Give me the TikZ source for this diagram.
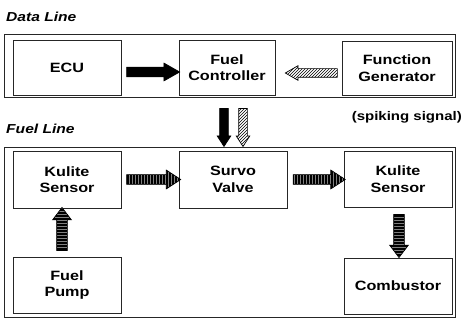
\documentclass[tikz,border=0pt]{standalone}
\usepackage{fontspec}
\setmainfont{Liberation Sans}[FakeStretch=1.2]
\usetikzlibrary{shapes.arrows,patterns,calc}
\begin{document}
\begin{tikzpicture}[x=1pt,y=-1pt,
  txt/.style={font=\fontsize{13.5}{16.5}\selectfont\bfseries, align=center},
  blk/.style={draw=black!85, line width=0.7pt, inner sep=0pt, txt},
  frame/.style={draw=black!85, line width=0.8pt},
  sarr/.style={single arrow, inner sep=0pt, outer sep=0pt, line width=0.7pt, draw=black},
  solidarr/.style={sarr, fill=black},
  hatcharr/.style={sarr, fill=white, pattern=north east lines, pattern color=black},
  fuelh/.style={sarr, preaction={fill=black}, pattern=vertical lines, pattern color=black!50},
  fuelv/.style={sarr, preaction={fill=black}, pattern=horizontal lines, pattern color=black!50}
]
\useasboundingbox (0,0) rectangle (464,320);

% section labels
\node[anchor=west, inner sep=0pt, font=\fontsize{13}{15}\selectfont\bfseries\itshape] (dl) at (6,16.5) {Data Line};
\node[anchor=west, inner sep=0pt, font=\fontsize{13}{15}\selectfont\bfseries\itshape] (fl) at (6,129) {Fuel Line};
\node[anchor=east, inner sep=0pt, font=\fontsize{12.5}{15}\selectfont\bfseries] (sp) at (462,117) {(spiking signal)};

% outer frames
\node[frame, minimum width=451pt, minimum height=63pt, inner sep=0pt] (dataframe) at (229.5,65.5) {};
\node[frame, minimum width=451pt, minimum height=170pt, inner sep=0pt] (fuelframe) at (229.5,232) {};

% data line blocks
\node[blk, minimum width=108pt, minimum height=55pt] (ecu) at (67,67.5) {ECU};
\node[blk, minimum width=96pt, minimum height=55pt] (fc) at (227,67.5) {Fuel\\Controller};
\node[blk, minimum width=110pt, minimum height=54pt] (fg) at (397,68) {Function\\Generator};

% fuel line blocks
\node[blk, minimum width=108pt, minimum height=57pt] (ks1) at (67,179.5) {Kulite\\Sensor};
\node[blk, minimum width=108pt, minimum height=57pt] (sv) at (233,179.5) {Survo\\Valve};
\node[blk, minimum width=108pt, minimum height=56pt] (ks2) at (398,179) {Kulite\\Sensor};
\node[blk, minimum width=108pt, minimum height=56pt] (fp) at (67,285) {Fuel\\Pump};
\node[blk, minimum width=108pt, minimum height=56pt] (cb) at (398,286) {Combustor};

% helper x positions
\coordinate (xa) at (224,0);
\coordinate (xb) at (243,0);
\coordinate (xc) at (62,0);
\coordinate (xd) at (399,0);

% data line arrows
\path ($(ecu.east)+(0,4.5)$) -- node[pos=0.48, solidarr, minimum height=53pt,
   single arrow head extend=4pt, single arrow tip angle=59] (a1) {\rule{0pt}{9pt}} ($(fc.west)+(0,4.5)$);
\path ($(fg.west)+(0,5)$) -- node[pos=0.4, hatcharr, rotate=180, minimum height=52pt,
   single arrow head extend=3pt, single arrow tip angle=60] (a2) {\rule{0pt}{8pt}} ($(fc.east)+(0,5.5)$);
\path (fc.south -| xa) -- node[pos=0.52, solidarr, rotate=-90, minimum height=38pt,
   single arrow head extend=2.5pt, single arrow tip angle=66] (a3) {\rule{0pt}{8pt}} (sv.north -| xa);
\path (fc.south -| xb) -- node[pos=0.52, hatcharr, rotate=-90, minimum height=38pt,
   single arrow head extend=2.5pt, single arrow tip angle=66] (a4) {\rule{0pt}{8pt}} (sv.north -| xb);

% fuel line arrows
\path (ks1.east) -- node[pos=0.5, fuelh, minimum height=54pt,
   single arrow head extend=4.5pt, single arrow tip angle=66] (a5) {\rule{0pt}{9pt}} (sv.west);
\path ($(sv.east)+(0,0.5)$) -- node[pos=0.5, fuelh, minimum height=52pt,
   single arrow head extend=4.5pt, single arrow tip angle=66] (a6) {\rule{0pt}{9pt}} (ks2.west);
\path (fp.north -| xc) -- node[pos=0.5, fuelv, rotate=90, minimum height=43pt,
   single arrow head extend=4pt, single arrow tip angle=74] (a7) {\rule{0pt}{10pt}} (ks1.south -| xc);
\path (ks2.south -| xd) -- node[pos=0.5, fuelv, rotate=-90, minimum height=43pt,
   single arrow head extend=4pt, single arrow tip angle=74] (a8) {\rule{0pt}{10pt}} (cb.north -| xd);
\end{tikzpicture}
\end{document}
